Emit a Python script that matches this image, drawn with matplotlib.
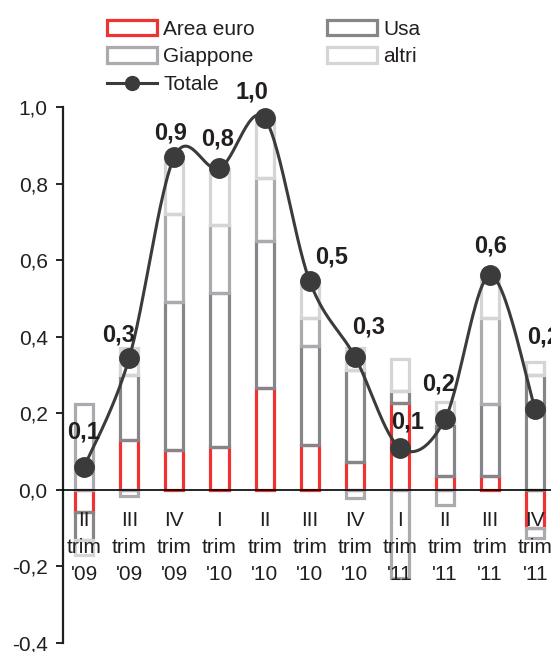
import numpy as np
import matplotlib
matplotlib.use("Agg")
import matplotlib.pyplot as plt
from matplotlib.patches import Rectangle
from matplotlib.lines import Line2D
from matplotlib.ticker import FuncFormatter

plt.rcParams['font.family'] = ['Liberation Sans', 'DejaVu Sans']
plt.rcParams['text.color'] = '#231F20'

# data (contributi, punti percentuali)
quarters = ["II\ntrim\n'09", "III\ntrim\n'09", "IV\ntrim\n'09", "I\ntrim\n'10", "II\ntrim\n'10",
            "III\ntrim\n'10", "IV\ntrim\n'10", "I\ntrim\n'11", "II\ntrim\n'11", "III\ntrim\n'11",
            "IV\ntrim\n'11"]
area_euro = [-0.058, 0.13, 0.105, 0.113, 0.265, 0.118, 0.073, 0.228, 0.035, 0.035, -0.10]
usa = [-0.072, 0.17, 0.385, 0.40, 0.385, 0.257, 0.24, 0.03, 0.14, 0.19, 0.30]
giappone = [0.225, -0.015, 0.23, 0.18, 0.165, 0.075, -0.02, -0.23, -0.04, 0.225, -0.025]
altri = [-0.04, 0.07, 0.15, 0.145, 0.15, 0.09, 0.057, 0.085, 0.055, 0.108, 0.035]
totale = [0.06, 0.345, 0.87, 0.84, 0.97, 0.545, 0.348, 0.11, 0.185, 0.56, 0.21]

# label offsets (pixels) from each marker
label_dx = [-1, -11, -4, -2, -13, 22, 14, 8, -6, 0, 8]
label_dy = [35, 23, 24, 29, 26, 24, 30, 26, 35, 29, 72]

series = [("Area euro", area_euro, '#EE3333'),
          ("Usa", usa, '#86868A'),
          ("Giappone", giappone, '#ABABAF'),
          ("altri", altri, '#D5D5D7')]


def smooth(xs, ys, n=30):
    # excel-like smoothed line (bezier through the points)
    px = np.concatenate([[xs[0]], xs, [xs[-1]]])
    py = np.concatenate([[ys[0]], ys, [ys[-1]]])
    ox, oy = [], []
    t = np.linspace(0, 1, n)
    for i in range(1, len(px) - 2):
        p0 = np.array([px[i], py[i]])
        p3 = np.array([px[i + 1], py[i + 1]])
        p1 = p0 + (np.array([px[i + 1], py[i + 1]]) - np.array([px[i - 1], py[i - 1]])) / 6
        p2 = p3 - (np.array([px[i + 2], py[i + 2]]) - np.array([px[i], py[i]])) / 6
        for tt in t:
            b = ((1 - tt) ** 3) * p0 + 3 * ((1 - tt) ** 2) * tt * p1 + 3 * (1 - tt) * tt ** 2 * p2 + tt ** 3 * p3
            ox.append(b[0])
            oy.append(b[1])
    return ox, oy


fig = plt.figure(figsize=(5.51, 6.52), dpi=100)
ax = fig.add_axes([0.1143, 0.0138, 0.8857, 0.8221])

x = np.arange(len(quarters))
pos_base = np.zeros(len(x))
neg_base = np.zeros(len(x))
for name, vals, col in series:
    vals = np.array(vals)
    bottoms = np.where(vals >= 0, pos_base, neg_base)
    ax.bar(x, vals, width=0.40, bottom=bottoms, facecolor='none', edgecolor=col,
           linewidth=2.3, zorder=2)
    pos_base = pos_base + np.where(vals >= 0, vals, 0)
    neg_base = neg_base + np.where(vals < 0, vals, 0)

sx, sy = smooth(x, np.array(totale))
ax.plot(sx, sy, color='#3B3B3B', lw=2.2, zorder=4)
ax.plot(x, totale, 'o', color='#3B3B3B', ms=14, zorder=5)

for i, v in enumerate(totale):
    ax.annotate(f"{v:.1f}".replace('.', ','), (x[i], v), xytext=(label_dx[i], label_dy[i]),
                textcoords='offset pixels', ha='center', va='center',
                fontsize=17, fontweight='bold', color='#231F20', zorder=6,
                annotation_clip=False)

# category labels just under the zero line
for i, q in enumerate(quarters):
    ax.annotate(q, (x[i], 0), xytext=(0, -21), textcoords='offset pixels',
                ha='center', va='top', fontsize=15, linespacing=1.55,
                color='#231F20', zorder=6, annotation_clip=False)

ax.set_xlim(-0.47, 10.35)
ax.set_ylim(-0.4, 1.0)
ax.set_yticks(np.arange(-0.4, 1.01, 0.2))
ax.yaxis.set_major_formatter(FuncFormatter(lambda v, p: f"{v:.1f}".replace('.', ',').replace('-0,0', '0,0')))
ax.tick_params(axis='y', direction='out', length=5, width=1.2, labelsize=15, pad=6,
               labelcolor='#231F20')
ax.set_xticks([])

ax.spines['top'].set_visible(False)
ax.spines['right'].set_visible(False)
ax.spines['bottom'].set_position(('data', 0))
ax.spines['bottom'].set_linewidth(1.2)
ax.spines['bottom'].set_zorder(3)
ax.spines['left'].set_linewidth(1.6)
ax.spines['left'].set_color('#231F20')

handles = []
labels = []
for name, vals, col in series:
    handles.append(Rectangle((0, 0), 1, 1, facecolor='white', edgecolor=col, linewidth=2.3))
    labels.append(name)
handles.append(Line2D([], [], color='#3B3B3B', lw=2.2, marker='o', ms=10))
labels.append("Totale")
order = [0, 2, 4, 1, 3]
fig.legend([handles[k] for k in order], [labels[k] for k in order], ncol=2,
           loc='upper left', bbox_to_anchor=(0.194, 0.97), frameon=False, fontsize=15,
           handlelength=2.4, handleheight=0.75, handletextpad=0.3, labelspacing=0.42,
           columnspacing=3.45, borderpad=0, borderaxespad=0)

fig.savefig('out.png', dpi=100)
